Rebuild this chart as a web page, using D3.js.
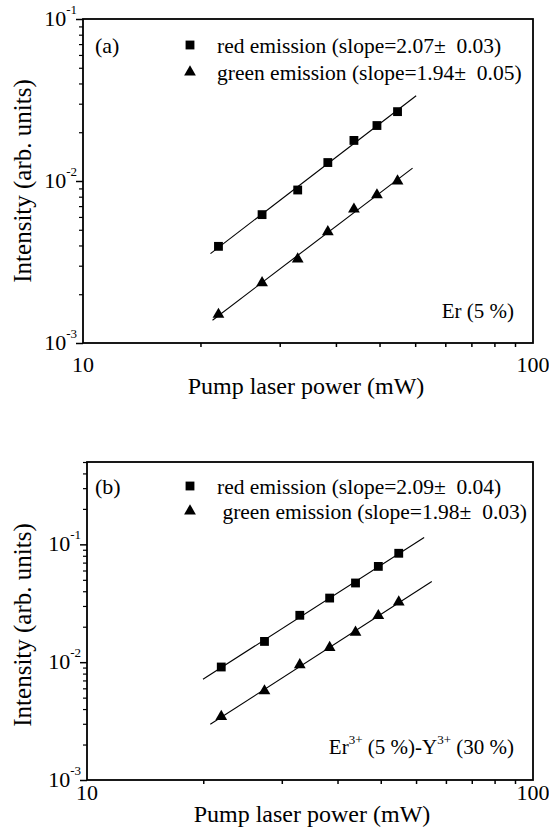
<!DOCTYPE html>
<html>
<head>
<meta charset="utf-8">
<script src="https://cdn.jsdelivr.net/npm/d3@7/dist/d3.min.js"></script>
<style>
  body { margin: 0; background: #fff; }
  text { font-family: 'Liberation Serif', 'DejaVu Serif', 'Times New Roman', serif; fill: #000; }
</style>
</head>
<body>
<svg id="chart" width="549" height="833"></svg>
<script>
// pump power (mW), same for every series
const power = [20, 25, 30, 35, 40, 45, 50];

// panel (a): Er (5 %)
const redA = [0.00395, 0.0062, 0.0088, 0.0130, 0.0178, 0.0220, 0.0268];
const greenA = [0.00150, 0.00235, 0.0033, 0.00485, 0.0067, 0.0082, 0.0100];

// panel (b): Er (5 %) - Y (30 %)
const redB = [0.0091, 0.0150, 0.0250, 0.0350, 0.0470, 0.0650, 0.0840];
const greenB = [0.00345, 0.0057, 0.0095, 0.0133, 0.0179, 0.0248, 0.0324];

// x extent of the fitted lines
const fitRangeA = [[19.2, 55], [19.4, 54]];
const fitRangeB = [[18.2, 57], [18.9, 59.3]];

// legend / label text
const legendA = ['red emission (slope=2.07\u00b1  0.03)', 'green emission (slope=1.94\u00b1  0.05)'];
const legendB = ['red emission (slope=2.09\u00b1  0.04)', ' green emission (slope=1.98\u00b1  0.03)'];
const yMajor = [1e-3, 1e-2, 1e-1];
const xMinor = [20, 30, 40, 50, 60, 70, 80, 90, 100];

const svg = d3.select('#chart');

const panels = [
  {
    tag: '(a)', red: redA, green: greenA, fit: fitRangeA, legend: legendA,
    left: 83, right: 533, top: 19, bottom: 343, yMax: 0.1,
    legendY: [45, 72], xLabelY: 372, xTitleY: 394, xTitleX: 306, yTitleY: 181,
    noteY: 318
  },
  {
    tag: '(b)', red: redB, green: greenB, fit: fitRangeB, legend: legendB,
    left: 87, right: 533, top: 462, bottom: 780, yMax: 0.5,
    legendY: [486, 511], xLabelY: 800, xTitleY: 822, xTitleX: 312, yTitleY: 625,
    noteY: 754
  }
];

// least squares in log-log space
function logFit(xs, ys) {
  const lx = xs.map(Math.log10), ly = ys.map(Math.log10);
  const mx = d3.mean(lx), my = d3.mean(ly);
  const k = d3.sum(lx, (d, i) => (d - mx) * (ly[i] - my)) / d3.sum(lx, d => (d - mx) * (d - mx));
  return x => Math.pow(10, my + k * (Math.log10(x) - mx));
}

const square = d3.symbol().type(d3.symbolSquare).size(78);
const triangle = d3.symbol().type(d3.symbolTriangle).size(60);

panels.forEach((p, pi) => {
  const x = d3.scaleLog().domain([10, 100]).range([p.left, p.right]);
  // the original's minor x ticks sit ~18px left of their log position
  const xTick = d3.scaleLog().domain([10, 100]).range([p.left - 18, p.right - 18]);
  const y = d3.scaleLog().domain([1e-3, p.yMax]).range([p.bottom, p.top]);

  const g = svg.append('g');

  // y axis: major and minor ticks
  const yMinor = [];
  [1e-3, 1e-2, 1e-1].forEach(d => {
    for (let m = 2; m <= 9; m++) {
      const v = d * m;
      if (v < p.yMax * 1.001) yMinor.push(v);
    }
  });
  g.append('g')
    .attr('transform', `translate(${p.left},0)`)
    .call(d3.axisLeft(y).tickValues(yMinor).tickSize(4).tickSizeOuter(0).tickFormat(''))
    .call(a => a.select('.domain').remove())
    .selectAll('line').attr('stroke-width', 1.2);
  g.append('g')
    .attr('transform', `translate(${p.left},0)`)
    .call(d3.axisLeft(y).tickValues(yMajor).tickSize(7).tickSizeOuter(0).tickFormat(''))
    .call(a => a.select('.domain').remove())
    .selectAll('line').attr('stroke-width', 1.5);

  // x axis minor ticks
  g.append('g')
    .attr('transform', `translate(0,${p.bottom})`)
    .call(d3.axisBottom(xTick).tickValues(xMinor).tickSize(4).tickSizeOuter(0).tickFormat(''))
    .call(a => a.select('.domain').remove())
    .selectAll('line').attr('stroke-width', 1.5);

  // frame
  g.append('rect')
    .attr('x', p.left).attr('y', p.top)
    .attr('width', p.right - p.left).attr('height', p.bottom - p.top)
    .attr('fill', 'none').attr('stroke', '#000').attr('stroke-width', 1.8);

  // y tick labels 10^n
  yMajor.forEach(v => {
    const t = g.append('text')
      .attr('x', p.left - 6).attr('y', y(v) + 7)
      .attr('text-anchor', 'end').attr('font-size', 22);
    t.append('tspan').text('10');
    t.append('tspan').attr('dy', -12).attr('font-size', 13).text(Math.round(Math.log10(v)));
  });

  // x tick labels
  [10, 100].forEach(v => {
    g.append('text')
      .attr('x', x(v)).attr('y', p.xLabelY)
      .attr('text-anchor', 'middle').attr('font-size', 22)
      .text(v);
  });

  // axis titles
  g.append('text')
    .attr('x', p.xTitleX).attr('y', p.xTitleY)
    .attr('text-anchor', 'middle').attr('font-size', 24)
    .text('Pump laser power (mW)');
  g.append('text')
    .attr('transform', `translate(31,${p.yTitleY}) rotate(-90)`)
    .attr('text-anchor', 'middle').attr('font-size', 25)
    .text('Intensity (arb. units)');

  // fitted lines
  [p.red, p.green].forEach((series, si) => {
    const f = logFit(power, series);
    const r = p.fit[si];
    g.append('line')
      .attr('x1', x(r[0])).attr('y1', y(f(r[0])))
      .attr('x2', x(r[1])).attr('y2', y(f(r[1])))
      .attr('stroke', '#000').attr('stroke-width', 1.1);
  });

  // data points
  g.selectAll('.sq')
    .data(p.red)
    .enter().append('path')
    .attr('d', square)
    .attr('transform', (d, i) => `translate(${x(power[i])},${y(d)})`)
    .attr('fill', '#000');
  g.selectAll('.tri')
    .data(p.green)
    .enter().append('path')
    .attr('d', triangle)
    .attr('transform', (d, i) => `translate(${x(power[i])},${y(d)})`)
    .attr('fill', '#000');

  // panel tag
  g.append('text')
    .attr('x', 95).attr('y', p.legendY[0] + 8)
    .attr('font-size', 22).text(p.tag);

  // legend
  g.append('path').attr('d', square)
    .attr('transform', `translate(190,${p.legendY[0]})`).attr('fill', '#000');
  g.append('path').attr('d', triangle)
    .attr('transform', `translate(190,${p.legendY[1]})`).attr('fill', '#000');
  p.legend.forEach((s, i) => {
    g.append('text')
      .attr('x', 217).attr('y', p.legendY[i] + 8)
      .attr('font-size', 21.5).style('white-space', 'pre')
      .attr('textLength', null)
      .text(s);
  });

  // sample note
  const note = g.append('text')
    .attr('x', 514).attr('y', p.noteY)
    .attr('text-anchor', 'end').attr('font-size', 21);
  if (pi === 0) {
    note.text('Er (5 %)');
  } else {
    note.append('tspan').text('Er');
    note.append('tspan').attr('dy', -10).attr('font-size', 13).text('3+');
    note.append('tspan').attr('dy', 10).text(' (5 %)-Y');
    note.append('tspan').attr('dy', -10).attr('font-size', 13).text('3+');
    note.append('tspan').attr('dy', 10).text(' (30 %)');
  }
});
</script>
</body>
</html>
